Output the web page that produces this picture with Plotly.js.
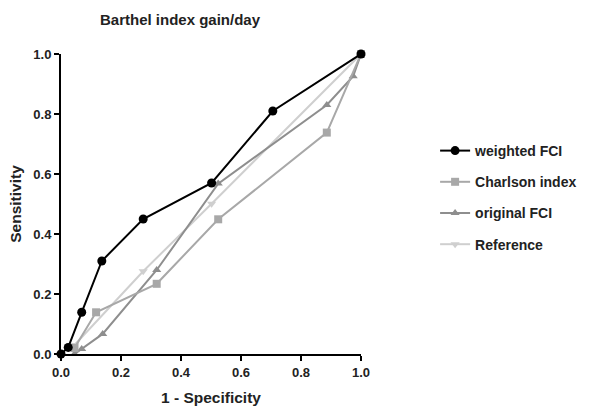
<!DOCTYPE html>
<html>
<head>
<meta charset="utf-8">
<script src="https://cdn.plot.ly/plotly-3.0.1.min.js"></script>
<style>html,body{margin:0;padding:0;background:#fff;}#chart{width:605px;height:414px;}</style>
</head>
<body>
<div id="chart"></div>
<script>
const seriesNames = ["weighted FCI", "Charlson index", "original FCI", "Reference"];
const weightedX = [0, 0.024, 0.069, 0.136, 0.274, 0.502, 0.706, 1.0];
const weightedY = [0, 0.022, 0.139, 0.31, 0.45, 0.57, 0.81, 1.0];
const charlsonX = [0.045, 0.117, 0.319, 0.524, 0.886, 1.0];
const charlsonY = [0.02, 0.139, 0.234, 0.449, 0.738, 1.0];
const originalX = [0.045, 0.069, 0.139, 0.319, 0.524, 0.886, 0.974, 1.0];
const originalY = [0, 0.017, 0.067, 0.28, 0.568, 0.83, 0.926, 1.0];
const referenceX = [0.045, 0.274, 0.502, 1.0];
const referenceY = [0.03, 0.276, 0.501, 1.0];
const tickVals = [0, 0.2, 0.4, 0.6, 0.8, 1.0];
const tickText = ["0.0", "0.2", "0.4", "0.6", "0.8", "1.0"];

const colors = ["#000000", "#a8a8a8", "#8e8e8e", "#cfcfcf"];
const symbols = ["circle", "square", "triangle-up", "triangle-down"];
const xs = [weightedX, charlsonX, originalX, referenceX];
const ys = [weightedY, charlsonY, originalY, referenceY];
const FONT = "Liberation Sans, Arial, sans-serif";

const traces = seriesNames.map((n, i) => ({
  type: "scatter",
  mode: "lines+markers",
  name: n,
  x: xs[i],
  y: ys[i],
  legendgroup: "g" + i,
  legendrank: 1000 + i,
  line: {color: colors[i], width: 2},
  marker: {color: colors[i], symbol: symbols[i], size: i === 0 ? 9 : 8},
  cliponaxis: false
})).reverse();

const axisCommon = {
  range: [0, 1],
  tickvals: tickVals,
  ticktext: tickText,
  ticks: "outside",
  ticklen: 5,
  tickwidth: 2,
  tickcolor: "#000",
  showline: true,
  linecolor: "#000",
  linewidth: 2,
  showgrid: false,
  zeroline: false,
  fixedrange: true,
  tickfont: {family: FONT, size: 13, color: "#222", weight: "bold"}
};

const layout = {
  width: 605,
  height: 414,
  paper_bgcolor: "#fff",
  plot_bgcolor: "#fff",
  margin: {l: 61, r: 244, t: 54, b: 60},
  title: {
    text: "Barthel index gain/day",
    font: {family: FONT, size: 15, color: "#222", weight: "bold"},
    x: 180 / 605, xref: "container", xanchor: "center",
    y: 1 - 20 / 414, yanchor: "middle"
  },
  xaxis: Object.assign({}, axisCommon, {
    title: {text: "1 - Specificity", standoff: 14,
      font: {family: FONT, size: 15.5, color: "#222", weight: "bold"}}
  }),
  yaxis: Object.assign({}, axisCommon, {
    title: {text: "Sensitivity", standoff: 8,
      font: {family: FONT, size: 15.5, color: "#222", weight: "bold"}}
  }),
  showlegend: true,
  legend: {
    x: 1.247, xanchor: "left",
    y: 0.73, yanchor: "top",
    traceorder: "grouped",
    tracegroupgap: 10,
    font: {family: FONT, size: 14, color: "#222", weight: "bold"},
    bgcolor: "rgba(0,0,0,0)"
  }
};

Plotly.newPlot("chart", traces, layout, {displayModeBar: false, staticPlot: true});
</script>
</body>
</html>
